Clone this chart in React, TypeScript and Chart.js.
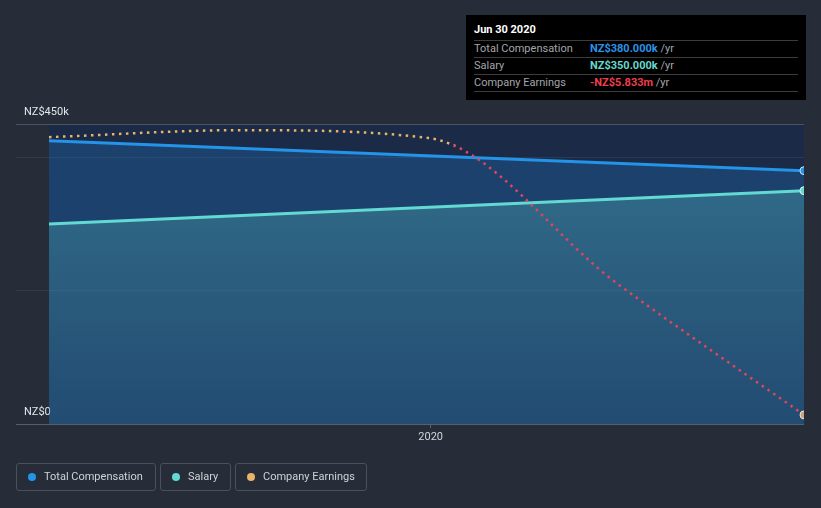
import React, { useEffect, useRef } from "react";
import { Chart, registerables } from "chart.js";

Chart.register(...registerables);

// ---- data ----
const earningsDates = ["2019-06-30", "2019-09-30", "2019-12-31", "2020-03-31", "2020-06-30"];
const earningsValues = [170000, 320000, 150000, -2980000, -5833000];
const compDates = ["2019-06-30", "2020-06-30"];
const totalCompValues = [425000, 380000];
const salaryValues = [300000, 350000];
const yTickValues = [0, 200000, 400000, 450000];
const yTickLabels: Record<number, string> = { 0: "NZ$0", 450000: "NZ$450k" };
const xTickDates = ["2020-01-01"];
const xTickLabels = ["2020"];
const xRange = ["2019-06-14", "2020-06-30"];
const earningsRange = [-6030000, 454000];

const EPOCH = Date.parse("2020-01-01");
const toDay = (s: string) => (Date.parse(s) - EPOCH) / 86400000;

const BG = "#262c38";
const NAVY = "#1b2a46";
const BLUE = "#2394e8";
const TEAL = "#62d9d3";
const ORANGE = "#e8b467";
const RED = "#e0455a";

const FONT = "Roboto, 'Open Sans', sans-serif";

export default function App() {
  const ref = useRef<HTMLCanvasElement | null>(null);

  useEffect(() => {
    if (!ref.current) return;
    const bgPlugin = {
      id: "bgPlugin",
      beforeDraw(chart: any) {
        const { ctx, chartArea, scales } = chart;
        ctx.save();
        ctx.fillStyle = BG;
        ctx.fillRect(0, 0, chart.width, chart.height);
        const x0 = scales.x.getPixelForValue(toDay(compDates[0]));
        ctx.fillStyle = NAVY;
        ctx.fillRect(x0, chartArea.top, chartArea.right - x0, chartArea.bottom - chartArea.top);
        ctx.restore();
      },
    };

    const lastRadius = (r: number) => (c: any) =>
      c.dataIndex === c.dataset.data.length - 1 ? r : 0;

    const chart = new Chart(ref.current, {
      type: "line",
      data: {
        datasets: [
          {
            label: "Company Earnings",
            yAxisID: "y2",
            data: earningsDates.map((d, i) => ({ x: toDay(d), y: earningsValues[i] })),
            borderColor: (c: any) => {
              const ch = c.chart;
              const area = ch.chartArea;
              if (!area) return ORANGE;
              const y0 = ch.scales.y2.getPixelForValue(0);
              const t = Math.min(1, Math.max(0, (y0 - area.top) / (area.bottom - area.top)));
              const g = ch.ctx.createLinearGradient(0, area.top, 0, area.bottom);
              g.addColorStop(0, ORANGE);
              g.addColorStop(t, ORANGE);
              g.addColorStop(t, RED);
              g.addColorStop(1, RED);
              return g;
            },
            borderWidth: 2.5,
            borderDash: [2.5, 4.5],
            cubicInterpolationMode: "monotone",
            fill: false,
            pointRadius: lastRadius(4),
            pointBackgroundColor: "#c8a47a",
            pointBorderColor: "#e8e8e8",
            pointBorderWidth: 1,
            clip: 0,
          } as any,
          {
            label: "Salary",
            yAxisID: "y",
            data: compDates.map((d, i) => ({ x: toDay(d), y: salaryValues[i] })),
            borderColor: TEAL,
            borderWidth: 3,
            fill: "origin",
            backgroundColor: (c: any) => {
              const ch = c.chart;
              const area = ch.chartArea;
              if (!area) return "rgba(90,200,200,0.3)";
              const g = ch.ctx.createLinearGradient(0, area.top, 0, area.bottom);
              g.addColorStop(0, "rgba(90,200,200,0.38)");
              g.addColorStop(1, "rgba(90,170,170,0.10)");
              return g;
            },
            pointRadius: lastRadius(4),
            pointBackgroundColor: TEAL,
            pointBorderColor: "#d8f4f4",
            pointBorderWidth: 1,
            clip: 0,
          } as any,
          {
            label: "Total Compensation",
            yAxisID: "y",
            data: compDates.map((d, i) => ({ x: toDay(d), y: totalCompValues[i] })),
            borderColor: BLUE,
            borderWidth: 3,
            fill: "origin",
            backgroundColor: "rgba(33,120,200,0.30)",
            pointRadius: lastRadius(4),
            pointBackgroundColor: BLUE,
            pointBorderColor: "#cfe6fa",
            pointBorderWidth: 1,
            clip: 0,
          } as any,
        ],
      },
      options: {
        animation: false,
        responsive: false,
        layout: { padding: { left: 16, right: 17, top: 124, bottom: 0 } },
        plugins: { legend: { display: false }, tooltip: { enabled: false } },
        elements: { line: { tension: 0 } },
        scales: {
          x: {
            type: "linear",
            min: toDay(xRange[0]),
            max: toDay(xRange[1]),
            afterFit: (s: any) => {
              s.height = 84;
            },
            afterBuildTicks: (s: any) => {
              s.ticks = xTickDates.map((d) => ({ value: toDay(d) }));
            },
            ticks: {
              callback: (v: any) => {
                const i = xTickDates.findIndex((d) => toDay(d) === v);
                return i >= 0 ? xTickLabels[i] : "";
              },
              color: "#d4d6da",
              font: { family: FONT, size: 11 },
              padding: 3,
              maxRotation: 0,
            },
            grid: {
              drawOnChartArea: false,
              drawTicks: true,
              tickLength: 4,
              color: "#5a606b",
            },
            border: { display: false },
          },
          y: {
            min: 0,
            max: 450000,
            afterFit: (s: any) => {
              s.width = 0;
            },
            afterBuildTicks: (s: any) => {
              s.ticks = yTickValues.map((v) => ({ value: v }));
            },
            ticks: {
              mirror: true,
              padding: 8,
              labelOffset: -12,
              color: "#e4e6ea",
              font: { family: FONT, size: 11 },
              callback: (v: any) => yTickLabels[v] ?? "",
            },
            grid: {
              drawTicks: false,
              color: (c: any) => {
                const v = c.tick?.value;
                if (v === 450000) return "#4a5263";
                if (v === 0) return "#5a606b";
                return "rgba(255,255,255,0.07)";
              },
            },
            border: { display: false },
          },
          y2: {
            display: false,
            min: earningsRange[0],
            max: earningsRange[1],
          },
        },
      } as any,
      plugins: [bgPlugin],
    });
    return () => chart.destroy();
  }, []);

  const legendItems = [
    { label: "Total Compensation", color: BLUE, left: 16, width: 140 },
    { label: "Salary", color: TEAL, left: 160, width: 71 },
    { label: "Company Earnings", color: ORANGE, left: 235, width: 132 },
  ];

  const rows = [
    { label: "Total Compensation", value: "NZ$380.000k", color: "#2a93e6" },
    { label: "Salary", value: "NZ$350.000k", color: "#66d8cc" },
    { label: "Company Earnings", value: "-NZ$5.833m", color: "#ee3f4c" },
  ];

  return (
    <div
      style={{
        position: "fixed",
        left: 0,
        top: 0,
        width: 821,
        height: 508,
        background: BG,
        fontFamily: FONT,
        overflow: "hidden",
      }}
    >
      <canvas ref={ref} width={821} height={508} style={{ position: "absolute", left: 0, top: 0 }} />
      <div
        style={{
          position: "absolute",
          left: 466,
          top: 15,
          width: 340,
          height: 85,
          background: "#000",
        }}
      >
        <div
          style={{
            position: "absolute",
            left: 8,
            top: 8,
            fontSize: 11,
            fontWeight: 700,
            color: "#fff",
            lineHeight: "14px",
          }}
        >
          Jun 30 2020
        </div>
        {rows.map((r, i) => (
          <div
            key={r.label}
            style={{
              position: "absolute",
              left: 8,
              top: 25 + 17 * i,
              width: 324,
              height: 17,
              borderTop: "1px solid #3c3c3c",
              fontSize: 11,
              lineHeight: "16px",
            }}
          >
            <span style={{ position: "absolute", left: 0, color: "#a3a6ab" }}>{r.label}</span>
            <span style={{ position: "absolute", left: 116, whiteSpace: "nowrap" }}>
              <span style={{ color: r.color, fontWeight: 700 }}>{r.value}</span>
              <span style={{ color: "#a3a6ab" }}> /yr</span>
            </span>
          </div>
        ))}
        <div
          style={{
            position: "absolute",
            left: 8,
            top: 76,
            width: 324,
            borderTop: "1px solid #3c3c3c",
          }}
        />
      </div>
      {legendItems.map((it) => (
        <div
          key={it.label}
          style={{
            position: "absolute",
            left: it.left,
            top: 463,
            width: it.width,
            height: 28,
            boxSizing: "border-box",
            border: "1px solid #4a505c",
            borderRadius: 3,
          }}
        >
          <span
            style={{
              position: "absolute",
              left: 11,
              top: 9,
              width: 8,
              height: 8,
              borderRadius: 4,
              background: it.color,
            }}
          />
          <span
            style={{
              position: "absolute",
              left: 27,
              top: 0,
              lineHeight: "26px",
              fontSize: 11,
              color: "#cfd2d7",
              whiteSpace: "nowrap",
            }}
          >
            {it.label}
          </span>
        </div>
      ))}
    </div>
  );
}
